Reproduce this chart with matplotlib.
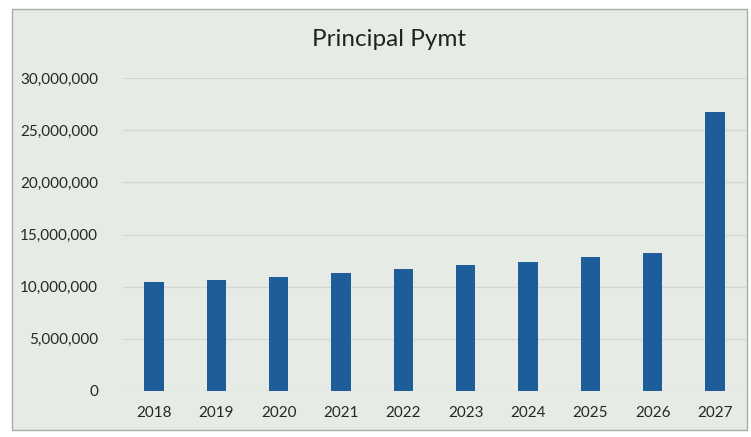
import matplotlib.pyplot as plt
import matplotlib.ticker as mticker
from matplotlib.patches import Rectangle

# principal payment per year
years = ['2018', '2019', '2020', '2021', '2022', '2023', '2024', '2025', '2026', '2027']
principal = [10400000, 10650000, 10950000, 11300000, 11700000,
             12050000, 12400000, 12850000, 13200000, 26700000]
yticks = [0, 5000000, 10000000, 15000000, 20000000, 25000000, 30000000]

plt.rcParams['font.family'] = ['Lato', 'DejaVu Sans']

fig = plt.figure(figsize=(7.51, 4.37), dpi=100)
fig.patch.set_facecolor('white')

# chart frame, drawn behind the axes
frame = Rectangle((12/751, 1-430/437), 735/751, 421/437, transform=fig.transFigure,
                  facecolor='#e7ebe5', edgecolor='#a9aca8', linewidth=1.0, zorder=-5)
fig.patches.append(frame)

ax = fig.add_axes([123/751, 46/437, 623/751, 313/437])
ax.set_facecolor('none')
ax.set_zorder(2)

x = range(len(years))
ax.bar(x, principal, width=0.31, color='#1c5d9a', zorder=3)

ax.set_xlim(-0.5, len(years) - 0.5)
ax.set_ylim(0, 30000000)
ax.set_yticks(yticks)
ax.yaxis.set_major_formatter(mticker.FuncFormatter(lambda v, p: '{:,.0f}'.format(v)))
ax.set_xticks(list(x))
ax.set_xticklabels(years)

for y in yticks:
    ax.axhline(y, color='#d3d7d1', linewidth=0.9, zorder=1)

for s in ax.spines.values():
    s.set_visible(False)
ax.tick_params(axis='both', length=0, labelsize=11, labelcolor='#262626')
ax.tick_params(axis='y', pad=18)
ax.tick_params(axis='x', pad=11)

fig.text(0.518, 1-40/437, 'Principal Pymt', ha='center', va='center',
         fontsize=17.5, color='#222222')

plt.savefig('out.png', dpi=100)
